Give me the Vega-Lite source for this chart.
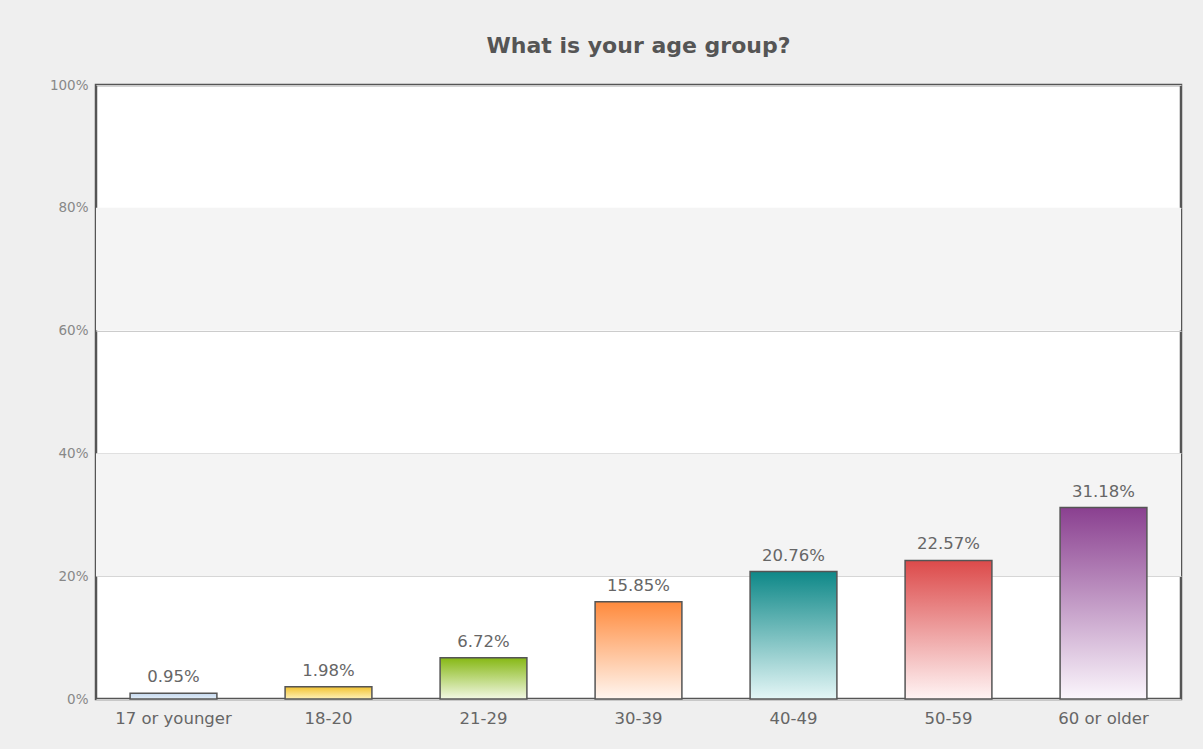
{
  "$schema": "https://vega.github.io/schema/vega-lite/v6.json",
  "width": 1085,
  "height": 614,
  "autosize": {"type": "none"},
  "padding": {"left": 96, "top": 85, "right": 22, "bottom": 50},
  "background": "#efefef",
  "title": {
    "text": "What is your age group?",
    "font": "DejaVu Sans",
    "fontSize": 22,
    "fontWeight": "bold",
    "color": "#555555",
    "anchor": "middle",
    "offset": 20
  },
  "config": {
    "view": {"fill": "#ffffff", "stroke": "#555555", "strokeWidth": 2.5},
    "font": "DejaVu Sans"
  },
  "layer": [
    {
      "data": {"values": [{"from": 20, "to": 40}, {"from": 60, "to": 80}]},
      "mark": {"type": "rect", "fill": "#f4f4f4"},
      "encoding": {
        "y": {"field": "from", "type": "quantitative", "scale": {"domain": [0, 100]}},
        "y2": {"field": "to"}
      }
    },
    {
      "data": {"values": [
        {"age": "17 or younger", "pct": 0.95},
        {"age": "18-20", "pct": 1.98},
        {"age": "21-29", "pct": 6.72},
        {"age": "30-39", "pct": 15.85},
        {"age": "40-49", "pct": 20.76},
        {"age": "50-59", "pct": 22.57},
        {"age": "60 or older", "pct": 31.18}
      ]},
      "encoding": {
        "x": {
          "field": "age", "type": "nominal", "sort": null,
          "scale": {"paddingInner": 0.44, "paddingOuter": 0.22},
          "axis": {"title": null, "labelAngle": 0, "ticks": false, "domain": false,
                   "labelColor": "#666666", "labelFontSize": 16.5, "labelPadding": 11, "labelFont": "DejaVu Sans"}
        },
        "y": {
          "field": "pct", "type": "quantitative",
          "scale": {"domain": [0, 100]},
          "axis": {"title": null, "values": [0, 20, 40, 60, 80, 100], "labelExpr": "datum.value + '%'",
                   "ticks": false, "domain": false, "grid": true, "gridColor": "#cccccc", "gridWidth": 1,
                   "labelColor": "#888888", "labelFontSize": 13.5, "labelPadding": 8, "labelFont": "DejaVu Sans"}
        }
      },
      "layer": [
        {
          "mark": {"type": "bar", "stroke": "#555555", "strokeWidth": 1.5},
          "encoding": {
            "fill": {
              "condition": [
                {"test": "datum.age === '17 or younger'", "value": {"gradient": "linear", "x1": 0, "y1": 0, "x2": 0, "y2": 1, "stops": [{"offset": 0, "color": "#c4d8ee"}, {"offset": 1, "color": "#e2edf8"}]}},
                {"test": "datum.age === '18-20'", "value": {"gradient": "linear", "x1": 0, "y1": 0, "x2": 0, "y2": 1, "stops": [{"offset": 0, "color": "#f2c230"}, {"offset": 1, "color": "#fff1b8"}]}},
                {"test": "datum.age === '21-29'", "value": {"gradient": "linear", "x1": 0, "y1": 0, "x2": 0, "y2": 1, "stops": [{"offset": 0, "color": "#86b814"}, {"offset": 1, "color": "#f2f8e4"}]}},
                {"test": "datum.age === '30-39'", "value": {"gradient": "linear", "x1": 0, "y1": 0, "x2": 0, "y2": 1, "stops": [{"offset": 0, "color": "#ff8a3c"}, {"offset": 1, "color": "#fff6f0"}]}},
                {"test": "datum.age === '40-49'", "value": {"gradient": "linear", "x1": 0, "y1": 0, "x2": 0, "y2": 1, "stops": [{"offset": 0, "color": "#0e8888"}, {"offset": 1, "color": "#e4f6f6"}]}},
                {"test": "datum.age === '50-59'", "value": {"gradient": "linear", "x1": 0, "y1": 0, "x2": 0, "y2": 1, "stops": [{"offset": 0, "color": "#dc4a4a"}, {"offset": 1, "color": "#fff4f4"}]}}
              ],
              "value": {"gradient": "linear", "x1": 0, "y1": 0, "x2": 0, "y2": 1, "stops": [{"offset": 0, "color": "#8a4090"}, {"offset": 1, "color": "#fbf6fc"}]}
            }
          }
        },
        {
          "mark": {"type": "text", "baseline": "bottom", "dy": -8, "fontSize": 16.5, "color": "#666666", "font": "DejaVu Sans",
                   "text": {"expr": "format(datum.pct, '.2f') + '%'"}},
          "encoding": {}
        }
      ]
    }
  ]
}
